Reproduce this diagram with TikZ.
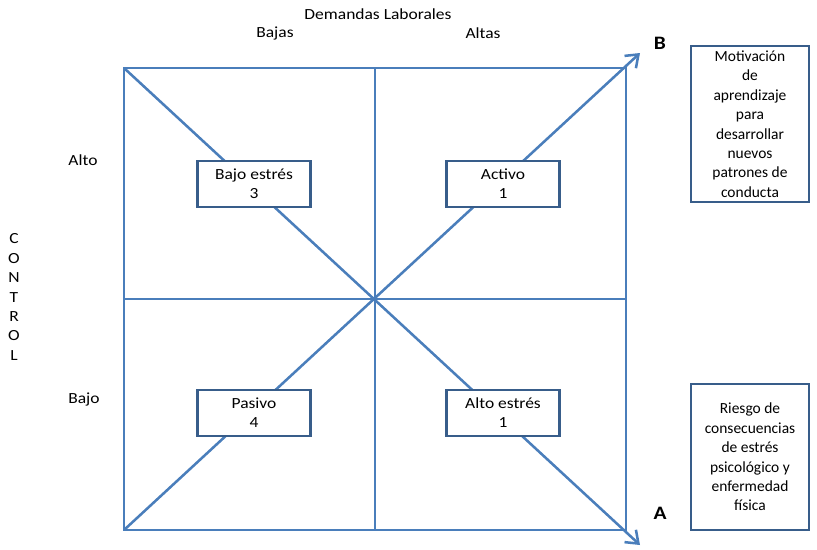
\documentclass[tikz,border=0pt]{standalone}
\usepackage{fontspec}
\setmainfont{Carlito}[FakeStretch=1.13]
\newfontfamily\notefont{Carlito}
\usetikzlibrary{arrows.meta}

\definecolor{lineblue}{HTML}{4A7EBB}
\definecolor{boxblue}{HTML}{385D8A}

\begin{document}
\begin{tikzpicture}[x=0.025cm,y=-0.025cm,font=\fontsize{11}{13.5}\selectfont,
  quad/.style={draw=boxblue,line width=1.7pt,fill=white,minimum width=2.83cm,minimum height=1.15cm,align=center,inner sep=1pt},
  note/.style={draw=boxblue,line width=1.7pt,fill=white,minimum width=2.95cm,align=center,inner sep=1pt,font=\notefont\fontsize{11}{13.8}\selectfont},
  diag/.style={lineblue,line width=1.8pt,-{Straight Barb[length=2.8mm,width=4.2mm]}},
  tip/.style={font=\fontsize{13.5}{16}\selectfont\bfseries}]
\useasboundingbox (0,0) rectangle (817,549);
% square and its cross
\coordinate (nw) at (124,68);
\coordinate (ne) at (626,68);
\coordinate (sw) at (124,530);
\coordinate (se) at (626,530);
\coordinate (midtop) at (375,68);
\coordinate (midbot) at (375,530);
\coordinate (midleft) at (124,299);
\coordinate (midright) at (626,299);
\coordinate (endA) at (640,545);
\coordinate (endB) at (640,53);
\draw[lineblue,line width=0.8pt] (midtop) -- (midbot) (midleft) -- (midright);
\draw[lineblue,line width=2pt] (nw) rectangle (se);
\draw[diag] (nw) -- (endA);
\draw[diag] (sw) -- (endB);
% quadrants
\node[quad] (bajoestres) at (254,184) {Bajo estrés\\3};
\node[quad] (activo) at (503,184) {Activo\\1};
\node[quad] (pasivo) at (254,413) {Pasivo\\4};
\node[quad] (altoestres) at (503,413) {Alto estrés\\1};
% axis labels
\node (demandas) at (378,14) {Demandas Laborales};
\node (bajas) at (275,33) {Bajas};
\node (altas) at (483,33) {Altas};
\node (alto) at (83,160) {Alto};
\node (bajo) at (84,399) {Bajo};
\node[align=center,font=\fontsize{11}{13.8}\selectfont] (control) at (14,297) {C\\O\\N\\T\\R\\O\\L};
\node[tip] (B) at (660,43) {B};
\node[tip] (A) at (660,513) {A};
% notes
\node[note,minimum height=3.9cm] (motivacion) at (750,124) {Motivación\\de\\aprendizaje\\para\\desarrollar\\nuevos\\patrones de\\conducta};
\node[note,minimum height=3.65cm] (riesgo) at (750,457) {Riesgo de\\consecuencias\\de estrés\\psicológico y\\enfermedad\\física};
\end{tikzpicture}
\end{document}
